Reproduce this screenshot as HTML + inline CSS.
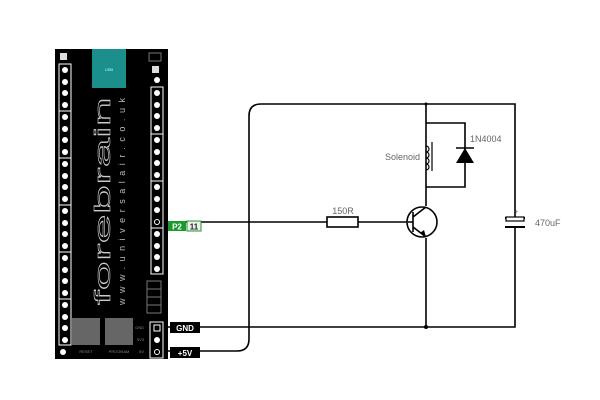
<!DOCTYPE html>
<html><head><style>body{margin:0;background:#fff}svg{display:block}</style></head>
<body>
<svg width="600" height="400" xmlns="http://www.w3.org/2000/svg" font-family="Liberation Sans, sans-serif">
<rect width="600" height="400" fill="#fff"/>
<!-- board -->
<rect x="55" y="49" width="113" height="310" fill="#000"/>
<rect x="92" y="49" width="34" height="39" fill="#1a8f8c"/>
<text x="109" y="71" fill="#cfe" font-size="4" text-anchor="middle">USB</text>
<rect x="60" y="53" width="7" height="7" fill="#ddd"/>
<rect x="149" y="53" width="12" height="8" fill="none" stroke="#777" stroke-width="1"/>
<rect x="152" y="66" width="7" height="7" fill="#ddd"/>
<circle cx="157" cy="80" r="3" fill="#fff"/>
<g fill="none" stroke="#fff" stroke-width="1">
<rect x="59" y="64" width="12" height="47"/><rect x="59" y="111" width="12" height="47"/>
<rect x="59" y="158" width="12" height="47"/><rect x="59" y="205" width="12" height="47"/>
<rect x="59" y="252" width="12" height="47"/><rect x="59" y="299" width="12" height="46"/>
<rect x="151" y="87" width="12" height="47"/><rect x="151" y="134" width="12" height="47"/>
<rect x="151" y="181" width="12" height="47"/><rect x="151" y="228" width="12" height="46"/>
<rect x="150" y="322" width="13" height="36"/>
</g>
<g fill="#fff">
<circle cx="65" cy="70" r="3"/><circle cx="65" cy="82" r="3"/><circle cx="65" cy="93" r="3"/><circle cx="65" cy="105" r="3"/>
<circle cx="65" cy="117" r="3"/><circle cx="65" cy="129" r="3"/><circle cx="65" cy="140" r="3"/><circle cx="65" cy="152" r="3"/>
<circle cx="65" cy="164" r="3"/><circle cx="65" cy="176" r="3"/><circle cx="65" cy="187" r="3"/><circle cx="65" cy="199" r="3"/>
<circle cx="65" cy="211" r="3"/><circle cx="65" cy="223" r="3"/><circle cx="65" cy="234" r="3"/><circle cx="65" cy="246" r="3"/>
<circle cx="65" cy="258" r="3"/><circle cx="65" cy="270" r="3"/><circle cx="65" cy="281" r="3"/><circle cx="65" cy="293" r="3"/>
<circle cx="65" cy="305" r="3"/><circle cx="65" cy="317" r="3"/><circle cx="65" cy="328" r="3"/><circle cx="65" cy="340" r="3"/>
<circle cx="63" cy="352" r="3"/>
<circle cx="157" cy="93" r="3"/><circle cx="157" cy="105" r="3"/><circle cx="157" cy="116" r="3"/><circle cx="157" cy="128" r="3"/>
<circle cx="157" cy="140" r="3"/><circle cx="157" cy="152" r="3"/><circle cx="157" cy="163" r="3"/><circle cx="157" cy="175" r="3"/>
<circle cx="157" cy="187" r="3"/><circle cx="157" cy="199" r="3"/><circle cx="157" cy="210" r="3"/>
<circle cx="157" cy="234" r="3"/><circle cx="157" cy="246" r="3"/><circle cx="157" cy="257" r="3"/><circle cx="157" cy="269" r="3"/>
<circle cx="157" cy="340" r="3"/>
</g>
<circle cx="157" cy="222" r="2.5" fill="none" stroke="#fff"/>
<rect x="154" y="325" width="6" height="6" fill="none" stroke="#fff"/>
<circle cx="157" cy="352" r="2.5" fill="none" stroke="#fff"/>
<g fill="none" stroke="#777"><rect x="147" y="281" width="14" height="8"/><rect x="147" y="289" width="14" height="8"/><rect x="147" y="297" width="14" height="8"/><rect x="147" y="305" width="14" height="8"/></g>
<rect x="72" y="318" width="28" height="27" fill="#666"/>
<rect x="105" y="318" width="28" height="27" fill="#666"/>
<text x="86" y="353" fill="#888" font-size="4" text-anchor="middle">RESET</text>
<text x="119" y="353" fill="#888" font-size="4" text-anchor="middle">PROGRAM</text>
<text x="144" y="329" fill="#888" font-size="4" text-anchor="end">GND</text>
<text x="144" y="341" fill="#888" font-size="4" text-anchor="end">3V3</text>
<text x="144" y="353" fill="#888" font-size="4" text-anchor="end">5V</text>
<text transform="translate(110,305) rotate(-90)" fill="none" stroke="#ccc" stroke-width="0.6" font-size="22" textLength="208" lengthAdjust="spacingAndGlyphs">forebrain</text>
<text transform="translate(125,305) rotate(-90)" fill="#bbb" font-size="9" textLength="207" lengthAdjust="spacing">www.universalair.co.uk</text>
<!-- wires -->
<g fill="none" stroke="#000" stroke-width="1.6">
<path d="M167 222 H408"/>
<path d="M167 327 H515 V227"/>
<path d="M167 351 H237 Q249 351 249 339 V116 Q249 104 261 104 H515 V218"/>
<path d="M426 104 V206"/>
<path d="M426 238 V327"/>
<path d="M426 123 H465 V187 H426"/>
<rect x="327" y="217" width="31" height="10" fill="#fff"/>
<circle cx="422" cy="222" r="15" fill="#fff"/>
<path d="M413 212 V232 M408 222 H413 M413 217 L426 207 M413 227 L426 237"/>
<path d="M432 142 V171" stroke-width="1.2"/>
<path d="M426 146 a3 3 0 0 1 0 6 a3 3 0 0 1 0 6 a3 3 0 0 1 0 6 a3 3 0 0 1 0 6" stroke-width="1.2"/>
<path d="M456 148 H474" stroke-width="1.4"/>
<path d="M505 218 H525 M505 227 H525" stroke-width="2"/>
</g>
<rect x="506" y="217" width="18" height="4" fill="#fff" stroke="#000" stroke-width="1.2"/>
<polygon points="456,163 474,163 465,148" fill="#000"/>
<polygon points="426,237 420,233 424,230" fill="#000"/>
<circle cx="426" cy="327" r="2" fill="#000"/>
<circle cx="426" cy="104" r="1.5" fill="#000"/>
<text x="514" y="214" font-size="7" fill="#444">+</text>
<!-- labels -->
<text x="343" y="214" font-size="9" fill="#666" text-anchor="middle">150R</text>
<text x="420" y="160" font-size="9" fill="#666" text-anchor="end">Solenoid</text>
<text x="470" y="142" font-size="9" fill="#666">1N4004</text>
<text x="535" y="226" font-size="9" fill="#666">470uF</text>
<rect x="168" y="221" width="18" height="10" fill="#1a9a2a"/>
<text x="177" y="229.5" font-size="8" font-weight="bold" fill="#fff" text-anchor="middle">P2</text>
<rect x="187" y="221" width="14" height="10" fill="#eee" stroke="#1a9a2a"/>
<text x="194" y="229.5" font-size="8" font-weight="bold" fill="#222" text-anchor="middle">11</text>
<rect x="170" y="322" width="30" height="11" fill="#000"/>
<text x="185" y="331" font-size="8" font-weight="bold" fill="#fff" text-anchor="middle">GND</text>
<rect x="170" y="347" width="30" height="11" fill="#000"/>
<text x="185" y="356" font-size="8" font-weight="bold" fill="#fff" text-anchor="middle">+5V</text>
</svg>
</body></html>
